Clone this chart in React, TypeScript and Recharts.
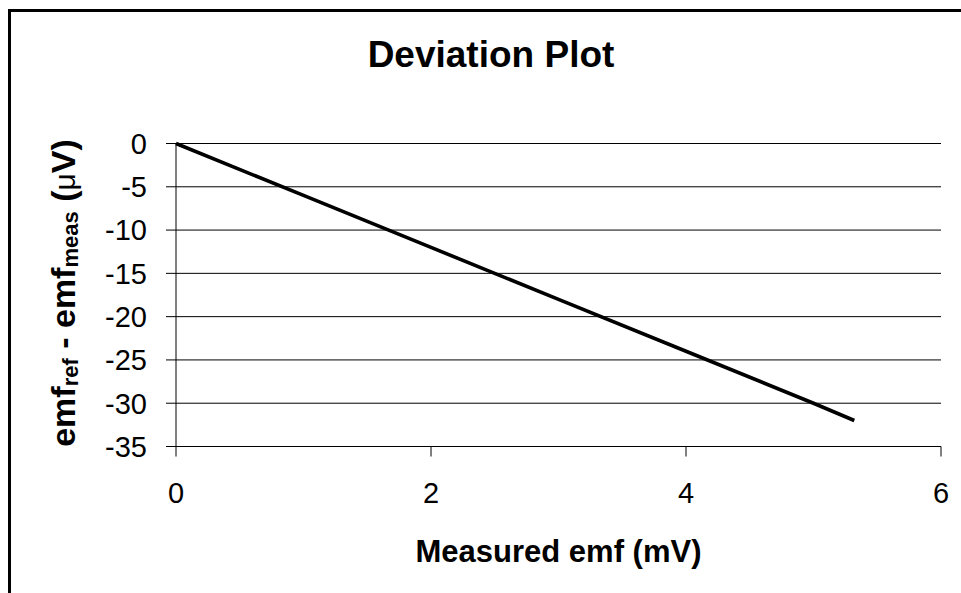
import React from 'react';
import { LineChart, Line, XAxis, YAxis, CartesianGrid, Label } from 'recharts';

const measuredEmf = [0, 1, 2, 3, 4, 5, 5.32];
const deviation = [0, -6, -12, -18, -24, -30, -32];
const xTicks = [0, 2, 4, 6];
const yTicks = [0, -5, -10, -15, -20, -25, -30, -35];

const data = measuredEmf.map((x, i) => ({ x, y: deviation[i] }));

const FONT = "'Liberation Sans', Arial, Helvetica, sans-serif";

const XLabel = (props: any) => {
  const vb = props.viewBox || {};
  return (
    <text x={vb.x + vb.width / 2} y={vb.y + 115.5} textAnchor="middle" fontFamily={FONT}
      fontWeight="bold" fontSize={31} fill="#000">Measured emf (mV)</text>
  );
};

const YLabel = (props: any) => {
  const vb = props.viewBox || {};
  const cx = 75;
  const cy = vb.y + vb.height / 2 - 2;
  return (
    <text x={cx} y={cy} transform={`rotate(-90, ${cx}, ${cy})`} textAnchor="middle"
      fontFamily={FONT} fontWeight="bold" fontSize={34} fill="#000">
      <tspan>emf</tspan>
      <tspan fontSize={22} dy={3}>ref</tspan>
      <tspan dy={-3}> - emf</tspan>
      <tspan fontSize={22} dy={3}>meas</tspan>
      <tspan dy={-3}> (</tspan>
      <tspan fontWeight="normal" fontSize={30}>μ</tspan>
      <tspan>V)</tspan>
    </text>
  );
};

export default function App() {
  return (
    <div style={{ position: 'absolute', left: 0, top: 0, width: 961, height: 593, overflow: 'hidden', background: '#fff' }}>
      <div style={{ position: 'absolute', left: 8, top: 9, width: 1100, height: 800, border: '3px solid #000', boxSizing: 'border-box' }} />
      <div style={{ position: 'absolute', left: 0, top: 0 }}>
        <LineChart width={961} height={593} data={data} margin={{ top: 143.5, right: 20, bottom: 0, left: 0 }}>
          <CartesianGrid vertical={false} stroke="#000" strokeWidth={1} />
          <XAxis dataKey="x" type="number" domain={[0, 6]} ticks={xTicks} interval={0}
            height={146.5} tickSize={10} tickMargin={26}
            axisLine={{ stroke: '#000' }} tickLine={{ stroke: '#000' }}
            tick={{ fill: '#000', fontSize: 29, fontFamily: FONT }}
            label={<Label content={XLabel} />} />
          <YAxis type="number" domain={[-35, 0]} ticks={yTicks} interval={0}
            width={176} tickSize={10} tickMargin={19}
            axisLine={{ stroke: '#000' }} tickLine={{ stroke: '#000' }}
            tick={{ fill: '#000', fontSize: 29, fontFamily: FONT }}
            label={<Label content={YLabel} />} />
          <Line dataKey="y" type="linear" stroke="#000" strokeWidth={3.6} dot={false} isAnimationActive={false} />
        </LineChart>
      </div>
      <svg width={961} height={593} style={{ position: 'absolute', left: 0, top: 0, pointerEvents: 'none' }}>
        <text x={491} y={67} textAnchor="middle" fontFamily={FONT} fontWeight="bold" fontSize={37} fill="#000">Deviation Plot</text>
      </svg>
    </div>
  );
}
